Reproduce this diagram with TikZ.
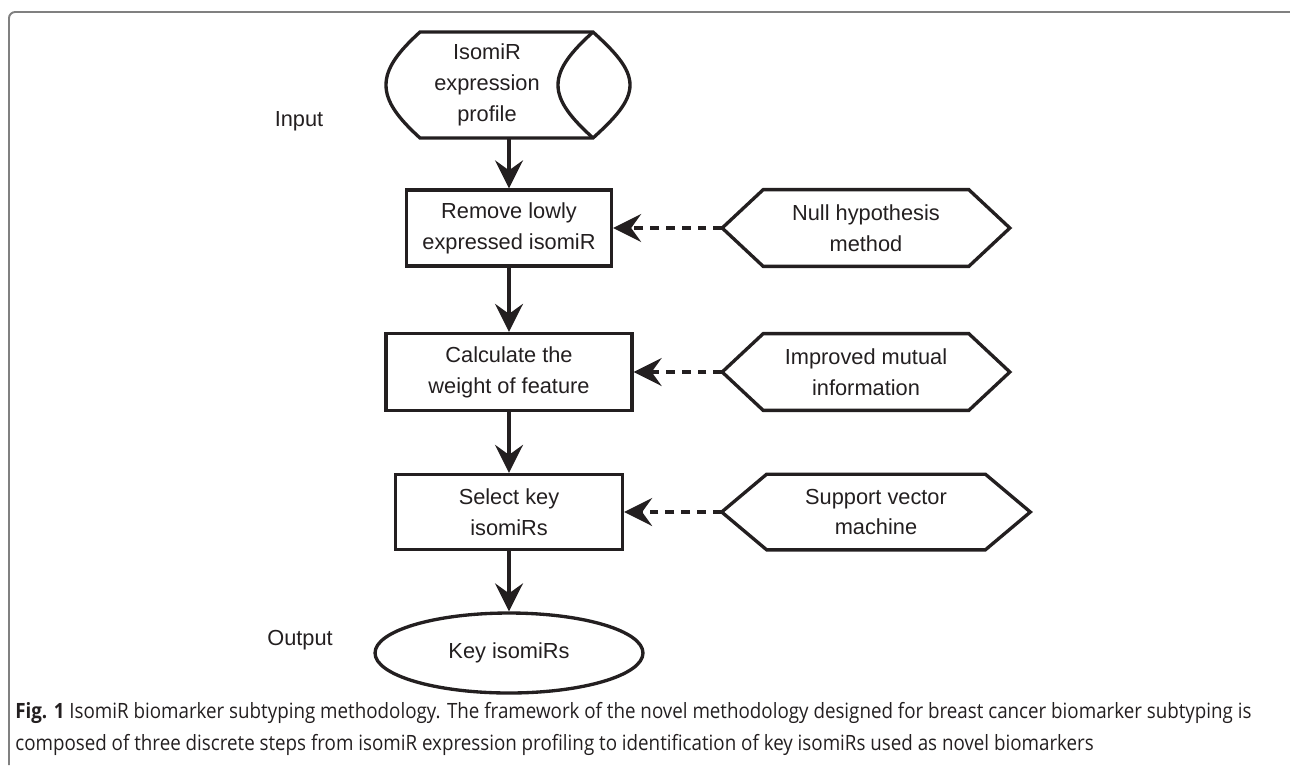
\documentclass[tikz,border=0pt]{standalone}
\usepackage{fontspec}
\setmainfont{Liberation Sans}
\newfontfamily\capfont[FakeStretch=0.89]{Open Sans}
\usepackage{xcolor}
\usetikzlibrary{arrows.meta}
\usetikzlibrary{shapes.geometric,positioning,calc}
\definecolor{ink}{RGB}{35,31,32}

\begin{document}
\begin{tikzpicture}[x=0.02cm, y=-0.02cm,
    >={Stealth[length=5.6mm, width=5.6mm, inset=2mm]},
    every node/.style={text=ink, font=\fontsize{12.4}{17.6}\selectfont, align=center},
    box/.style={draw=ink, line width=1.9pt, inner sep=0pt},
    flow/.style={->, draw=ink, line width=1.9pt},
    hint/.style={->, draw=ink, line width=1.9pt, dash pattern=on 5pt off 4pt},
    hexa/.style={inner sep=0pt, minimum width=5.74cm, minimum height=1.52cm},
    caption/.style={anchor=base west, inner sep=0pt, font=\capfont\fontsize{12}{14}\selectfont}]
    \useasboundingbox (0,0) rectangle (1290,765);
    \draw[black!50, line width=1.1pt, rounded corners=3.5pt] (9,765) -- (9,12) -- (1290,12);
    % input
    \node[inner sep=0pt, minimum width=4.88cm, minimum height=2.12cm] (src) at (509,85) {};
    \node (srctxt) at (487,85) {IsomiR\\expression\\profile};
    \draw[box] (420,32) -- (593,32) .. controls (615,52) and (630,68) .. (630,85)
        .. controls (630,102) and (615,118) .. (593,138) -- (420,138)
        .. controls (398,118) and (386,102) .. (386,85)
        .. controls (386,68) and (398,52) .. (420,32) -- cycle;
    \draw[box] (593,32) .. controls (571,52) and (558,68) .. (558,85)
        .. controls (558,102) and (571,118) .. (593,138);
    \node (inlbl) at (299,121) {Input};
    % steps
    \node[box, minimum width=4.1cm, minimum height=1.52cm] (rem) at (509,228) {Remove lowly\\expressed isomiR};
    \node[box, minimum width=4.92cm, minimum height=1.54cm] (wgt) at (509,372) {Calculate the\\weight of feature};
    \node[box, minimum width=4.54cm, minimum height=1.5cm] (sel) at (509,512) {Select key\\isomiRs};
    \node[box, ellipse, minimum width=5.36cm, minimum height=1.6cm] (keys) at (509,653) {Key isomiRs};
    \node (outlbl) at (300,640) {Output};
    % methods
    \node[hexa] (nullh) at (866,228) {Null hypothesis\\method};
    \node[hexa] (mutual) at (866,372) {Improved mutual\\information};
    \node[hexa, minimum width=6.16cm, minimum height=1.5cm] (svm) at (876,512) {Support vector\\machine};
    \foreach \h/\d in {nullh/41, mutual/41, svm/45}
        \draw[box] (\h.west) -- ($(\h.north west)+(\d,0)$) -- ($(\h.north east)-(\d,0)$) -- (\h.east)
            -- ($(\h.south east)-(\d,0)$) -- ($(\h.south west)+(\d,0)$) -- cycle;
    \draw[flow] (src.south) -- (rem.north);
    \draw[flow] (rem) -- (wgt);
    \draw[flow] (wgt) -- (sel);
    \draw[flow] (sel) -- (keys);
    \draw[hint] (nullh) -- (rem);
    \draw[hint] (mutual) -- (wgt);
    \draw[hint] (svm) -- (sel);
    % caption
    \node[caption] (cap1) at (15,718) {\textbf{Fig. 1} IsomiR biomarker subtyping methodology. The framework of the novel methodology designed for breast cancer biomarker subtyping is};
    \node[caption] (cap2) at (15,750) {composed of three discrete steps from isomiR expression profiling to identification of key isomiRs used as novel biomarkers};
\end{tikzpicture}
\end{document}
